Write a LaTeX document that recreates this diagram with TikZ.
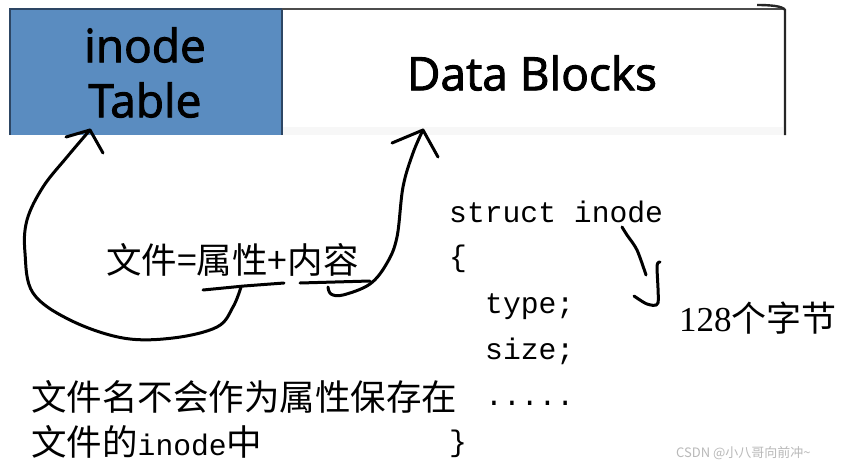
\documentclass[tikz,border=0pt]{standalone}
\usepackage{fontspec}
\setmainfont{Liberation Serif}
\newfontfamily\cjk{Noto Sans CJK SC}
\newfontfamily\barfont[FakeBold=2]{Open Sans}
\newfontfamily\codefont{Liberation Mono}
\definecolor{barblue}{RGB}{90,140,192}
\definecolor{bardark}{RGB}{45,70,100}
\definecolor{wmgray}{RGB}{185,185,185}
\begin{document}
\begin{tikzpicture}[x=1pt,y=-1pt,
  hand/.style={line width=3pt,line cap=round,line join=round},
  cjktext/.style={font=\cjk\fontsize{35.5}{42}\selectfont,inner sep=0pt,anchor=west},
  codetext/.style={font=\codefont\fontsize{29.7}{35}\selectfont,inner sep=0pt,anchor=base west},
  bartext/.style={font=\barfont\fontsize{46}{55}\selectfont,inner sep=0pt}]
\useasboundingbox (0,0) rectangle (846,469);
\fill[white] (0,0) rectangle (846,469);
% top bar
\fill[gray!6] (283,127) rectangle (783,135);
\fill[barblue] (10,9) rectangle (282,135);
\draw[bardark,line width=1.5pt] (10,135) -- (10,9) -- (282,9);
\draw[bardark,line width=2.2pt] (282,9) -- (282,135);
\draw[black!70,line width=1.5pt] (282,9) -- (783,9);
\draw[black!85,line width=2.4pt] (785,135) -- (785,10) .. controls (783,6) and (770,5) .. (757,5);
\node[bartext] (ititle) at (145,45) {inode};
\node[bartext] (ttitle) at (145,100) {Table};
\node[bartext] (dtitle) at (532,73) {Data Blocks};
% equation text
\node[cjktext] (eq) at (106,260) {文件=属性+内容};
% left arrow
\draw[hand] (203,290) -- (244,286) -- (284,283);
\draw[hand] plot[smooth,tension=0.6] coordinates {(241,287) (233,307) (217,327) (173,338) (123,338) (70,320) (33,293) (25,253) (27,220) (43,187) (67,157) (90,130)};
\coordinate (ltip) at (90,130);
\draw[hand] (66,137) -- (ltip) -- (103,153);
% right arrow
\draw[hand] (300,283) -- (370,281);
\draw[hand] plot[smooth,tension=0.6] coordinates {(328,287) (331,294) (343,295) (370,284) (387,263) (397,237) (403,187) (413,153) (423,130)};
\coordinate (rtip) at (423,130);
\draw[hand] (392,143) -- (rtip) -- (438,157);
% code
\node[codetext] (l1) at (449,222) {struct inode};
\node[codetext] (l2) at (449,266) {\{};
\node[codetext] (l3) at (485,313) {type;};
\node[codetext] (l4) at (485,359) {size;};
\node[codetext] (l5) at (485,405) {.....};
\node[codetext] (l6) at (449,451) {\}};
% small arrow
\draw[hand] plot[smooth,tension=0.5] coordinates {(622,227) (627,235) (637,250) (646,275)};
\draw[hand] plot[smooth,tension=0.4] coordinates {(660,262) (657,266) (658,303) (647,304) (634,296)};
\node[font=\fontsize{35}{42}\selectfont,inner sep=0pt,anchor=west] (sz) at (679,318) {128{\cjk 个字节}};
% bottom text
\node[cjktext] (n1) at (31,397) {文件名不会作为属性保存在};
\node[anchor=west,inner sep=0pt] (n2) at (31,442) {{\cjk\fontsize{35.5}{42}\selectfont 文件的}{\codefont\fontsize{29.7}{35}\selectfont inode}{\cjk\fontsize{35.5}{42}\selectfont 中}};
% watermark
\node[font=\cjk\fontsize{13}{15}\selectfont,text=wmgray,inner sep=0pt,anchor=west] (wm) at (676,453) {CSDN @小八哥向前冲\textasciitilde};
\end{tikzpicture}
\end{document}
